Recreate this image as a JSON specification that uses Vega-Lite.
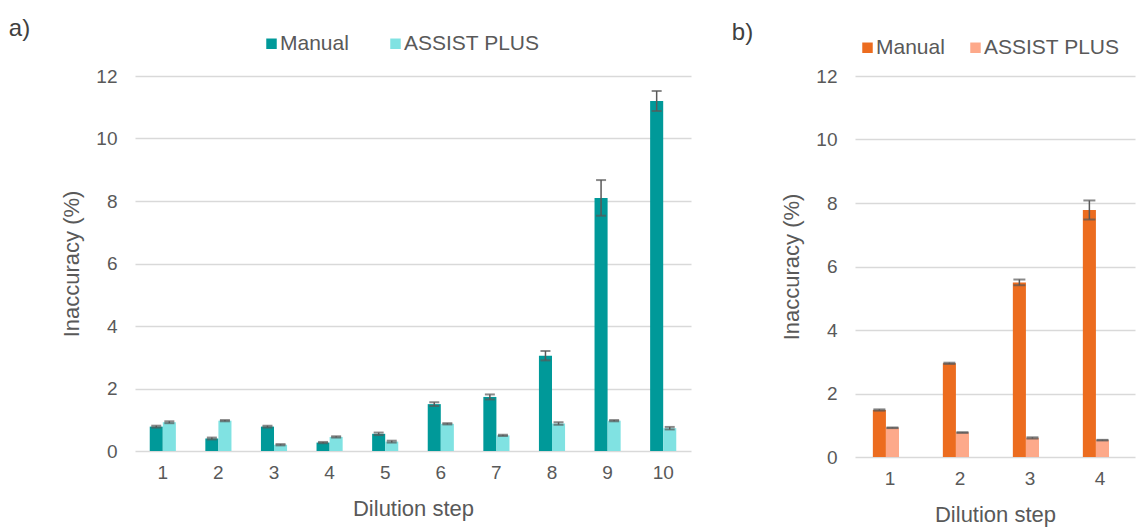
{
 "$schema": "https://vega.github.io/schema/vega-lite/v6.json",
 "background": "white",
 "padding": {"left": 8, "top": 17, "right": 5, "bottom": 5},
 "config": {
   "font": "Liberation Sans",
   "view": {"stroke": null},
   "axis": {"labelFont": "Liberation Sans", "titleFont": "Liberation Sans", "labelColor": "#595959", "titleColor": "#595959", "labelFontSize": 19, "titleFontSize": 22, "titleFontWeight": "normal", "gridColor": "#d9d9d9", "gridWidth": 1.5, "domain": false, "ticks": false},
   "legend": {"labelFont": "Liberation Sans", "labelColor": "#595959", "labelFontSize": 21, "symbolType": "square", "symbolSize": 110, "symbolStrokeWidth": 0, "labelOffset": -2},
   "title": {"font": "Liberation Sans", "fontSize": 24, "fontWeight": "normal", "color": "#404040", "anchor": "start"}
 },
 "spacing": 40,
 "resolve": {"scale": {"color": "independent", "x": "independent", "y": "independent"}, "legend": {"color": "independent"}},
 "hconcat": [
  {
   "width": 556, "height": 375,
   "title": {"text": "a)", "dx": -52, "offset": -8},
   "data": {"values": [
     {"step": 1, "series": "Manual", "value": 0.78, "lo": 0.75, "hi": 0.81},
     {"step": 2, "series": "Manual", "value": 0.40, "lo": 0.37, "hi": 0.43},
     {"step": 3, "series": "Manual", "value": 0.78, "lo": 0.75, "hi": 0.81},
     {"step": 4, "series": "Manual", "value": 0.27, "lo": 0.25, "hi": 0.29},
     {"step": 5, "series": "Manual", "value": 0.55, "lo": 0.51, "hi": 0.59},
     {"step": 6, "series": "Manual", "value": 1.50, "lo": 1.44, "hi": 1.56},
     {"step": 7, "series": "Manual", "value": 1.73, "lo": 1.65, "hi": 1.81},
     {"step": 8, "series": "Manual", "value": 3.05, "lo": 2.90, "hi": 3.20},
     {"step": 9, "series": "Manual", "value": 8.10, "lo": 7.53, "hi": 8.67},
     {"step": 10, "series": "Manual", "value": 11.20, "lo": 10.88, "hi": 11.52},
     {"step": 1, "series": "ASSIST PLUS", "value": 0.92, "lo": 0.89, "hi": 0.95},
     {"step": 2, "series": "ASSIST PLUS", "value": 0.97, "lo": 0.95, "hi": 0.99},
     {"step": 3, "series": "ASSIST PLUS", "value": 0.20, "lo": 0.18, "hi": 0.22},
     {"step": 4, "series": "ASSIST PLUS", "value": 0.45, "lo": 0.43, "hi": 0.47},
     {"step": 5, "series": "ASSIST PLUS", "value": 0.30, "lo": 0.27, "hi": 0.33},
     {"step": 6, "series": "ASSIST PLUS", "value": 0.87, "lo": 0.85, "hi": 0.89},
     {"step": 7, "series": "ASSIST PLUS", "value": 0.50, "lo": 0.48, "hi": 0.52},
     {"step": 8, "series": "ASSIST PLUS", "value": 0.88, "lo": 0.84, "hi": 0.92},
     {"step": 9, "series": "ASSIST PLUS", "value": 0.97, "lo": 0.95, "hi": 0.99},
     {"step": 10, "series": "ASSIST PLUS", "value": 0.73, "lo": 0.69, "hi": 0.77}
   ]},
   "encoding": {
     "x": {"field": "step", "type": "ordinal", "scale": {"paddingInner": 0.53, "paddingOuter": 0.265}, "axis": {"labelAngle": 0, "title": "Dilution step", "labelPadding": 12, "titlePadding": 16, "grid": false}},
     "xOffset": {"field": "series", "sort": ["Manual", "ASSIST PLUS"]}
   },
   "layer": [
     {"mark": {"type": "bar"},
      "encoding": {
        "y": {"field": "value", "type": "quantitative", "scale": {"domain": [0, 12]}, "axis": {"title": "Inaccuracy (%)", "values": [0, 2, 4, 6, 8, 10, 12], "labelPadding": 18, "titlePadding": 12}},
        "color": {"field": "series", "type": "nominal", "sort": ["Manual", "ASSIST PLUS"], "scale": {"domain": ["Manual", "ASSIST PLUS"], "range": ["#009999", "#80E2E2"]},
                  "legend": {"title": null, "orient": "none", "legendX": 126, "legendY": -43, "direction": "horizontal", "columnPadding": 36}}
      }},
     {"mark": {"type": "rule", "color": "#595959", "strokeWidth": 1.5},
      "encoding": {"y": {"field": "lo", "type": "quantitative"}, "y2": {"field": "hi"}}},
     {"mark": {"type": "tick", "color": "#595959", "thickness": 2, "size": 10},
      "encoding": {"y": {"field": "lo", "type": "quantitative"}}},
     {"mark": {"type": "tick", "color": "#595959", "thickness": 2, "size": 10},
      "encoding": {"y": {"field": "hi", "type": "quantitative"}}}
   ]
  },
  {
   "width": 280, "height": 381,
   "title": {"text": "b)", "dx": -49, "offset": -8},
   "data": {"values": [
     {"step": 1, "series": "Manual", "value": 1.48, "lo": 1.46, "hi": 1.50},
     {"step": 2, "series": "Manual", "value": 2.95, "lo": 2.93, "hi": 2.97},
     {"step": 3, "series": "Manual", "value": 5.50, "lo": 5.41, "hi": 5.59},
     {"step": 4, "series": "Manual", "value": 7.78, "lo": 7.48, "hi": 8.08},
     {"step": 1, "series": "ASSIST PLUS", "value": 0.92, "lo": 0.91, "hi": 0.93},
     {"step": 2, "series": "ASSIST PLUS", "value": 0.77, "lo": 0.76, "hi": 0.78},
     {"step": 3, "series": "ASSIST PLUS", "value": 0.60, "lo": 0.58, "hi": 0.62},
     {"step": 4, "series": "ASSIST PLUS", "value": 0.53, "lo": 0.52, "hi": 0.54}
   ]},
   "encoding": {
     "x": {"field": "step", "type": "ordinal", "scale": {"paddingInner": 0.51, "paddingOuter": 0.255}, "axis": {"labelAngle": 0, "title": "Dilution step", "labelPadding": 12, "titlePadding": 16, "grid": false}},
     "xOffset": {"field": "series", "sort": ["Manual", "ASSIST PLUS"]}
   },
   "layer": [
     {"mark": {"type": "bar"},
      "encoding": {
        "y": {"field": "value", "type": "quantitative", "scale": {"domain": [0, 12]}, "axis": {"title": "Inaccuracy (%)", "values": [0, 2, 4, 6, 8, 10, 12], "labelPadding": 18, "titlePadding": 12}},
        "color": {"field": "series", "type": "nominal", "sort": ["Manual", "ASSIST PLUS"], "scale": {"domain": ["Manual", "ASSIST PLUS"], "range": ["#EC6C1F", "#FDA98A"]},
                  "legend": {"title": null, "orient": "none", "legendX": 2, "legendY": -39, "direction": "horizontal", "columnPadding": 20}}
      }},
     {"mark": {"type": "rule", "color": "#595959", "strokeWidth": 1.5},
      "encoding": {"y": {"field": "lo", "type": "quantitative"}, "y2": {"field": "hi"}}},
     {"mark": {"type": "tick", "color": "#595959", "thickness": 2, "size": 12},
      "encoding": {"y": {"field": "lo", "type": "quantitative"}}},
     {"mark": {"type": "tick", "color": "#595959", "thickness": 2, "size": 12},
      "encoding": {"y": {"field": "hi", "type": "quantitative"}}}
   ]
  }
 ]
}
